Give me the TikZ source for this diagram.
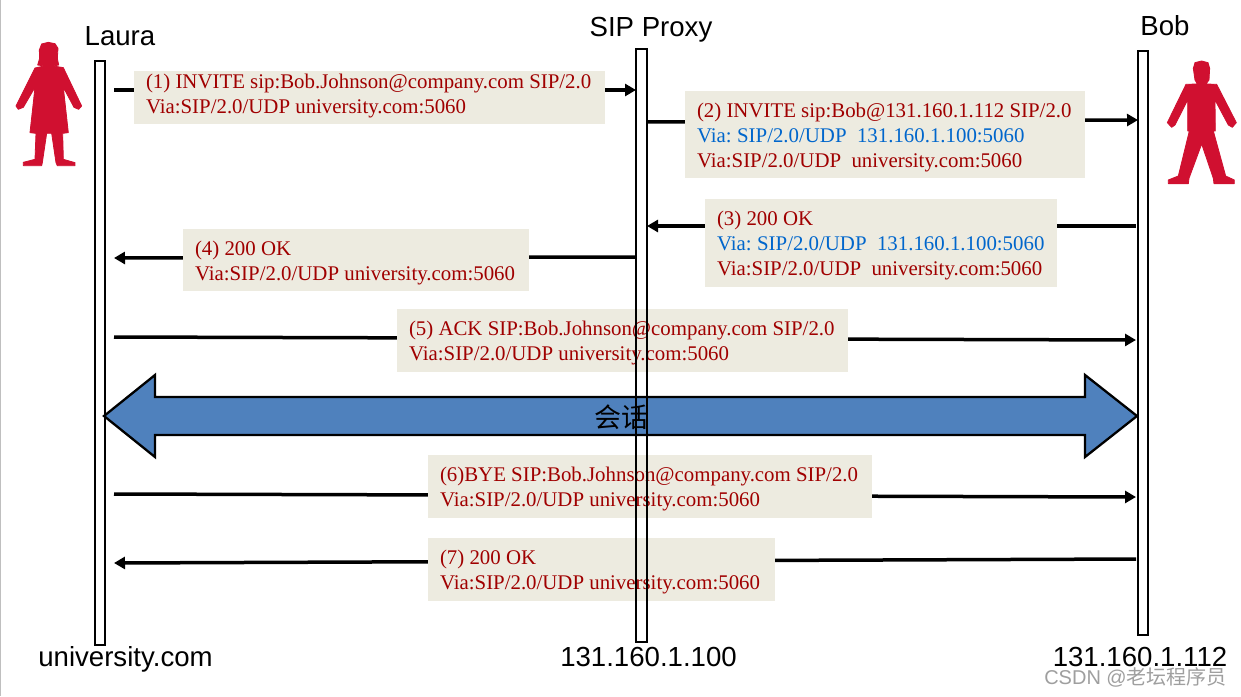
\documentclass[tikz,border=0pt]{standalone}
\usepackage{fontspec}
\setmainfont{Liberation Sans}
\newfontfamily\serifmsg{Liberation Serif}
\newfontfamily\cjk{Noto Sans CJK SC}
\usetikzlibrary{arrows.meta,positioning}
\definecolor{msgred}{HTML}{A00000}
\definecolor{msgblue}{HTML}{0066CC}
\definecolor{boxbg}{HTML}{EDEBE0}
\definecolor{bigblue}{HTML}{4F81BD}
\definecolor{figred}{HTML}{D01030}
\newcommand{\bl}[1]{\textcolor{msgblue}{#1}}
\tikzset{
  x=1pt,y=-1pt,
  conn/.style={line width=3.5pt,-{Triangle[length=11pt,width=12pt]}},
  msgbox/.style={fill=boxbg,draw=none,inner sep=0pt,outer sep=0pt,anchor=north west},
  msg/.style={anchor=north west,inner xsep=12pt,inner ysep=0pt,outer sep=0pt,align=left,text=msgred,
    font=\serifmsg\fontsize{20.85}{24.85}\selectfont},
  bar/.style={draw=black,line width=2.3pt,inner sep=0pt,outer sep=0pt,anchor=north west,fill=none},
  lbl/.style={font=\fontsize{27.6}{30}\selectfont,inner sep=0pt,text=black},
  person/.style={fill=figred,draw=figred,line width=0.8pt,line join=round},
}
\begin{document}
\begin{tikzpicture}
\useasboundingbox (0,0) rectangle (1241,696);
\fill[white] (0,0) rectangle (1241,696);
\draw[gray!50,line width=1pt] (0.5,0) -- (0.5,696);

% persons
\path[person,x=0.3333pt,y=-0.3333pt] (145,127) -- (125,132) -- (118,150) -- (119,175) -- (113,195) -- (133,198) -- (105,204) -- (48,318) -- (55,328) -- (70,322) -- (105,262) -- (90,398) -- (108,400) -- (105,478) -- (70,487) -- (70,497) -- (125,497) -- (127,488) -- (140,400) -- (155,400) -- (168,488) -- (172,497) -- (225,497) -- (225,488) -- (190,478) -- (188,400) -- (205,398) -- (190,262) -- (222,322) -- (236,328) -- (245,318) -- (190,203) -- (160,198) -- (176,195) -- (172,175) -- (174,145) -- (165,131) -- cycle;
\begin{scope}[shift={(1060,0)}]
\path[person,x=0.3333pt,y=-0.3333pt] (425,183) -- (405,188) -- (400,205) -- (405,240) -- (412,252) -- (378,253) -- (322,368) -- (335,382) -- (345,375) -- (383,300) -- (383,393) -- (388,393) -- (355,528) -- (325,540) -- (325,551) -- (385,551) -- (387,535) -- (425,432) -- (460,535) -- (462,551) -- (523,551) -- (523,540) -- (497,528) -- (460,393) -- (466,393) -- (465,300) -- (505,375) -- (517,382) -- (529,368) -- (470,253) -- (438,252) -- (447,240) -- (449,205) -- (444,188) -- cycle;
\end{scope}

% connector end points
\coordinate (a1) at (114,90);   \coordinate (a1e) at (636,90);
\coordinate (a2) at (647,122);  \coordinate (a2e) at (1138,120);
\coordinate (a3) at (1136,226); \coordinate (a3e) at (647,226);
\coordinate (a4) at (636,257);  \coordinate (a4e) at (114,258);
\coordinate (a5) at (114,337);  \coordinate (a5e) at (1136,340);
\coordinate (a6) at (114,494);  \coordinate (a6e) at (1136,497);
\coordinate (a7) at (1136,559); \coordinate (a7e) at (114,563);
\foreach \n in {1,...,7} \draw[conn] (a\n) -- (a\n e);

% message boxes
\node[msgbox,minimum width=471pt,minimum height=53pt] (b1) at (134,71) {};
\node[msgbox,minimum width=400pt,minimum height=87pt] (b2) at (685,91) {};
\node[msgbox,minimum width=352pt,minimum height=88pt] (b3) at (705,199) {};
\node[msgbox,minimum width=346pt,minimum height=62pt] (b4) at (183,229) {};
\node[msgbox,minimum width=451pt,minimum height=63pt] (b5) at (397,309) {};
\node[msgbox,minimum width=444pt,minimum height=63pt] (b6) at (428,455) {};
\node[msgbox,minimum width=347pt,minimum height=63pt] (b7) at (428,538) {};

% big double arrow
\path[fill=bigblue,draw=black,line width=2.3pt,line join=miter]
 (104,416) -- (155,375) -- (155,397) -- (1085,397) -- (1085,375) -- (1137,416) -- (1085,457) -- (1085,435) -- (155,435) -- (155,457) -- cycle;
\node[font=\cjk\fontsize{27}{30}\selectfont,inner sep=0pt] (talk) at (621,417) {会话};

% texts
\node[msg] (t1) at ([yshift=-3pt]b1.north west) {(1) INVITE sip:Bob.Johnson@company.com SIP/2.0\\Via:SIP/2.0/UDP university.com:5060};
\node[msg] (t2) at ([yshift=-12pt]b2.north west) {(2) INVITE sip:Bob@131.160.1.112 SIP/2.0\\\bl{Via:\hspace{5.5pt}SIP/2.0/UDP\ \ 131.160.1.100:5060}\\Via:SIP/2.0/UDP\ \ university.com:5060};
\node[msg] (t3) at ([yshift=-12.2pt]b3.north west) {(3) 200 OK\\\bl{Via:\hspace{5.5pt}SIP/2.0/UDP\ \ 131.160.1.100:5060}\\Via:SIP/2.0/UDP\ \ university.com:5060};
\node[msg] (t4) at ([yshift=-11.7pt]b4.north west) {(4) 200 OK\\Via:SIP/2.0/UDP university.com:5060};
\node[msg] (t5) at ([yshift=-12pt]b5.north west) {(5) ACK SIP:Bob.Johnson@company.com SIP/2.0\\Via:SIP/2.0/UDP university.com:5060};
\node[msg] (t6) at ([yshift=-11.7pt]b6.north west) {(6)BYE SIP:Bob.Johnson@company.com SIP/2.0\\Via:SIP/2.0/UDP university.com:5060};
\node[msg] (t7) at ([yshift=-12.2pt]b7.north west) {(7) 200 OK\\Via:SIP/2.0/UDP university.com:5060};

% lifelines
\node[bar,minimum width=10pt,minimum height=584pt] (laura) at (95,61) {};
\node[bar,minimum width=11pt,minimum height=593pt] (proxy) at (636,49) {};
\node[bar,minimum width=10pt,minimum height=584pt] (bob) at (1138,51) {};

% labels
\node[lbl] (nL) at (120,36) {Laura};
\node[lbl] (nP) at (651,29.5) {SIP Proxy};
\node[lbl] (nB) at (1165,26) {Bob};
\node[lbl] (uL) at (125.5,659) {university.com};
\node[lbl] (uP) at (648.5,657) {131.160.1.100};
\node[lbl] (uB) at (1140,657) {131.160.1.112};
\node[font=\fontsize{20}{24}\selectfont,text=gray!75,inner sep=0pt,anchor=east] (wm) at (1227,677) {CSDN @{\cjk 老坛程序员}};
\end{tikzpicture}
\end{document}
